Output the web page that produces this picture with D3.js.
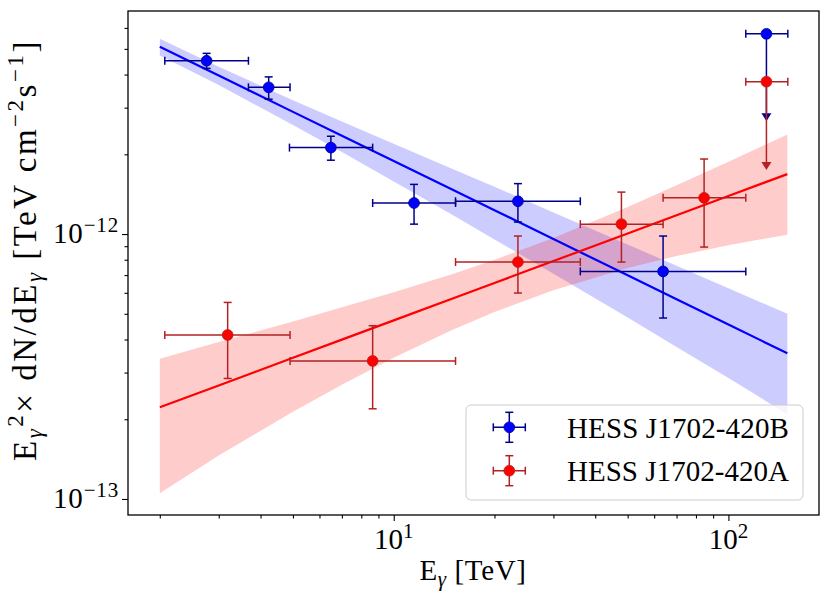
<!DOCTYPE html>
<html>
<head>
<meta charset="utf-8">
<script src="https://cdn.jsdelivr.net/npm/d3@7"></script>
<style>
body { margin: 0; background: #fff; }
</style>
</head>
<body>
<div class="canvas"></div>
<script>
// fluxes are in units of 1e-12 TeV cm^-2 s^-1
const unit = 1e-12

// HESS J1702-420B (blue)
const bE   = [2.76, 4.23, 6.49, 11.5, 23.5, 63.8]
const bElo = [2.07, 3.68, 4.88, 8.65, 15.3, 36.1]
const bEhi = [3.68, 4.90, 8.65, 15.3, 36.1, 112.7]
const bF   = [4.51, 3.58, 2.12, 1.31, 1.33, 0.723]
const bFlo = [4.22, 3.23, 1.90, 1.09, 1.11, 0.482]
const bFhi = [4.81, 3.92, 2.34, 1.54, 1.55, 0.983]

// HESS J1702-420A (red)
const aE   = [3.19, 8.65, 23.5, 47.9, 84.6]
const aElo = [2.07, 4.90, 15.3, 36.1, 63.8]
const aEhi = [4.90, 15.3, 36.1, 63.8, 112.7]
const aF   = [0.416, 0.332, 0.784, 1.09, 1.37]
const aFlo = [0.285, 0.219, 0.599, 0.784, 0.893]
const aFhi = [0.552, 0.451, 0.983, 1.44, 1.92]

// upper limits in the last bin [B, A]
const ulE   = [129.9, 129.9]
const ulElo = [112.7, 112.7]
const ulEhi = [150.5, 150.5]
const ulF   = [5.70, 3.76]
const ulEnd = [2.86, 1.87]

// power-law fits with their bands
const fitE   = [2, 3, 5, 7, 10, 15, 20, 30, 50, 70, 100, 150]
const fitB   = [5.09, 3.965, 2.892, 2.350, 1.886, 1.469, 1.230, 0.9577, 0.6985, 0.5678, 0.4555, 0.3548]
const fitBlo = [4.72, 3.65, 2.58, 2.04, 1.58, 1.18, 0.954, 0.708, 0.484, 0.375, 0.286, 0.209]
const fitBhi = [5.46, 4.28, 3.20, 2.66, 2.19, 1.76, 1.51, 1.207, 0.913, 0.760, 0.625, 0.500]
const fitA   = [0.2218, 0.2683, 0.3410, 0.3995, 0.4722, 0.5712, 0.6537, 0.7906, 1.0055, 1.1773, 1.3921, 1.684]
const fitAlo = [0.105, 0.146, 0.2136, 0.270, 0.341, 0.435, 0.508, 0.614, 0.745, 0.827, 0.908, 0.994]
const fitAhi = [0.338, 0.391, 0.468, 0.529, 0.603, 0.707, 0.7995, 0.967, 1.266, 1.528, 1.876, 2.374]

const xMajor = [10, 100]
const xMajorExp = ["1", "2"]
const yMajor = [1e-13, 1e-12]
const yMajorExp = ["\u221213", "\u221212"]
const legendLabels = ["HESS J1702-420B", "HESS J1702-420A"]

const width = 830
const height = 603
const pLeft = 128, pRight = 819, pTop = 11, pBottom = 515
const serif = "'Liberation Serif', 'Times New Roman', Times, 'DejaVu Serif', serif"

const svg = d3.select(".canvas").append("svg")
    .attr("width", width)
    .attr("height", height)
    .style("font-family", serif)

const x = d3.scaleLog().domain([1.607, 186.5]).range([pLeft, pRight])
const y = d3.scaleLog().domain([8.70e-14, 6.95e-12]).range([pBottom, pTop])

const plot = svg.append("g")

// bands
function band(lo, hi, fill) {
    const area = d3.area()
        .x((d, i) => x(fitE[i]))
        .y0((d, i) => y(lo[i] * unit))
        .y1((d, i) => y(hi[i] * unit))
    plot.append("path").datum(fitE).attr("d", area).attr("fill", fill).attr("fill-opacity", 0.2)
}
band(fitBlo, fitBhi, "#0000ff")
band(fitAlo, fitAhi, "#ff0000")

function fitLine(vals, col) {
    const line = d3.line().x((d, i) => x(fitE[i])).y((d, i) => y(vals[i] * unit))
    plot.append("path").datum(fitE).attr("d", line)
        .attr("fill", "none").attr("stroke", col).attr("stroke-width", 2.2)
}
fitLine(fitB, "#0000ff")
fitLine(fitA, "#ff0000")

const cap = 4

function hbar(g, xa, xb, yy, ecol) {
    g.append("line").attr("x1", xa).attr("x2", xb).attr("y1", yy).attr("y2", yy)
        .attr("stroke", ecol).attr("stroke-width", 1.5)
    ;[xa, xb].forEach(xx => g.append("line").attr("x1", xx).attr("x2", xx)
        .attr("y1", yy - cap).attr("y2", yy + cap).attr("stroke", ecol).attr("stroke-width", 1.5))
}
function vbar(g, xx, ya, yb, ecol, caps) {
    g.append("line").attr("x1", xx).attr("x2", xx).attr("y1", ya).attr("y2", yb)
        .attr("stroke", ecol).attr("stroke-width", 1.5)
    if (caps) [ya, yb].forEach(yy => g.append("line").attr("x1", xx - cap).attr("x2", xx + cap)
        .attr("y1", yy).attr("y2", yy).attr("stroke", ecol).attr("stroke-width", 1.5))
}

function series(E, Elo, Ehi, F, Flo, Fhi, k, col, ecol) {
    const g = plot.append("g")
    E.forEach((e, i) => {
        hbar(g, x(Elo[i]), x(Ehi[i]), y(F[i] * unit), ecol)
        vbar(g, x(e), y(Flo[i] * unit), y(Fhi[i] * unit), ecol, true)
    })
    // upper limit
    const ux = x(ulE[k]), uy = y(ulF[k] * unit), ue = y(ulEnd[k] * unit)
    hbar(g, x(ulElo[k]), x(ulEhi[k]), uy, ecol)
    vbar(g, ux, uy, ue, ecol, false)
    g.append("path").attr("d", `M${ux - 5},${ue} L${ux + 5},${ue} L${ux},${ue + 8} Z`).attr("fill", ecol)
    g.selectAll("circle").data(E.concat([ulE[k]])).enter().append("circle")
        .attr("cx", d => x(d))
        .attr("cy", (d, i) => y((i < F.length ? F[i] : ulF[k]) * unit))
        .attr("r", 5.4)
        .attr("fill", col).attr("stroke", ecol).attr("stroke-width", 0.8)
}
series(bE, bElo, bEhi, bF, bFlo, bFhi, 0, "#0000ff", "#00008b")
series(aE, aElo, aEhi, aF, aFlo, aFhi, 1, "#ff0000", "#b22222")

// axes
const xMinor = [2, 3, 4, 5, 6, 7, 8, 9, 20, 30, 40, 50, 60, 70, 80, 90]
const yMinor = [2, 3, 4, 5, 6, 7, 8, 9].map(d => d * 1e-13).concat([2, 3, 4, 5, 6].map(d => d * 1e-12))

svg.append("g").attr("transform", `translate(0,${pBottom})`)
    .call(d3.axisBottom(x).tickValues(xMinor).tickSize(3.5).tickSizeOuter(0).tickFormat(""))
svg.append("g").attr("transform", `translate(0,${pBottom})`)
    .call(d3.axisBottom(x).tickValues(xMajor).tickSize(6).tickSizeOuter(0).tickFormat(""))
svg.append("g").attr("transform", `translate(${pLeft},0)`)
    .call(d3.axisLeft(y).tickValues(yMinor).tickSize(3.5).tickSizeOuter(0).tickFormat(""))
svg.append("g").attr("transform", `translate(${pLeft},0)`)
    .call(d3.axisLeft(y).tickValues(yMajor).tickSize(6).tickSizeOuter(0).tickFormat(""))
svg.selectAll(".domain").remove()
svg.selectAll(".tick line").attr("stroke", "#000").attr("stroke-width", 1.1)

svg.append("rect").attr("x", pLeft).attr("y", pTop)
    .attr("width", pRight - pLeft).attr("height", pBottom - pTop)
    .attr("fill", "none").attr("stroke", "#000").attr("stroke-width", 1.3)

function txt(g) {
    return g.append("text").attr("font-family", serif).attr("fill", "#000")
}
// stretch a label to the width it has in the figure
function fitWidth(t, target) {
    const len = t.node().getComputedTextLength()
    const n = t.text().length
    t.attr("letter-spacing", (target - len) / n)
}

xMajor.forEach((v, i) => {
    const t = txt(svg).attr("x", x(v)).attr("y", pBottom + 34)
        .attr("text-anchor", "middle").attr("font-size", 29)
    t.append("tspan").text("10")
    t.append("tspan").attr("dy", -11).attr("font-size", 21).text(xMajorExp[i])
})
yMajor.forEach((v, i) => {
    const t = txt(svg).attr("x", pLeft - 9).attr("y", y(v) + 9)
        .attr("text-anchor", "end").attr("font-size", 29)
    t.append("tspan").text("10")
    t.append("tspan").attr("dy", -11).attr("font-size", 21).text(yMajorExp[i])
    fitWidth(t, 66)
})

// axis labels
const xl = txt(svg).attr("x", 473).attr("y", 580)
    .attr("text-anchor", "middle").attr("font-size", 29)
xl.append("tspan").text("E")
xl.append("tspan").attr("dy", 6).attr("font-size", 21).attr("font-style", "italic").text("\u03b3")
xl.append("tspan").attr("dy", -6).text(" [TeV]")
fitWidth(xl, 107)

const yl = txt(svg).attr("transform", "translate(36,250) rotate(-90)")
    .attr("text-anchor", "middle").attr("font-size", 33)
yl.append("tspan").text("E")
yl.append("tspan").attr("dy", 6).attr("font-size", 23).attr("font-style", "italic").text("\u03b3")
yl.append("tspan").attr("dy", -19).attr("font-size", 23).text("2")
yl.append("tspan").attr("dy", 13).text("\u00d7 dN/dE")
yl.append("tspan").attr("dy", 6).attr("font-size", 23).attr("font-style", "italic").text("\u03b3")
yl.append("tspan").attr("dy", -6).text(" [TeV cm")
yl.append("tspan").attr("dy", -13).attr("font-size", 23).text("\u22122")
yl.append("tspan").attr("dy", 13).text("s")
yl.append("tspan").attr("dy", -13).attr("font-size", 23).text("\u22121")
yl.append("tspan").attr("dy", 13).text("]")
fitWidth(yl, 422)

// legend
const lg = svg.append("g")
lg.append("rect").attr("x", 466).attr("y", 405).attr("width", 337).attr("height", 95)
    .attr("rx", 5).attr("fill", "#fff").attr("fill-opacity", 0.8)
    .attr("stroke", "#cccccc").attr("stroke-width", 1)
const legCols = [["#0000ff", "#00008b"], ["#ff0000", "#b22222"]]
legendLabels.forEach((lab, i) => {
    const cy = 427.3 + i * 43.4
    const cx = 509.3
    hbar(lg, cx - 16, cx + 16, cy, legCols[i][1])
    vbar(lg, cx, cy - 15, cy + 15, legCols[i][1], true)
    lg.append("circle").attr("cx", cx).attr("cy", cy).attr("r", 5.4)
        .attr("fill", legCols[i][0]).attr("stroke", legCols[i][1]).attr("stroke-width", 0.8)
    const t = txt(lg).attr("x", 567).attr("y", cy + 10.5).attr("font-size", 29).text(lab)
    fitWidth(t, 222)
})
</script>
</body>
</html>
